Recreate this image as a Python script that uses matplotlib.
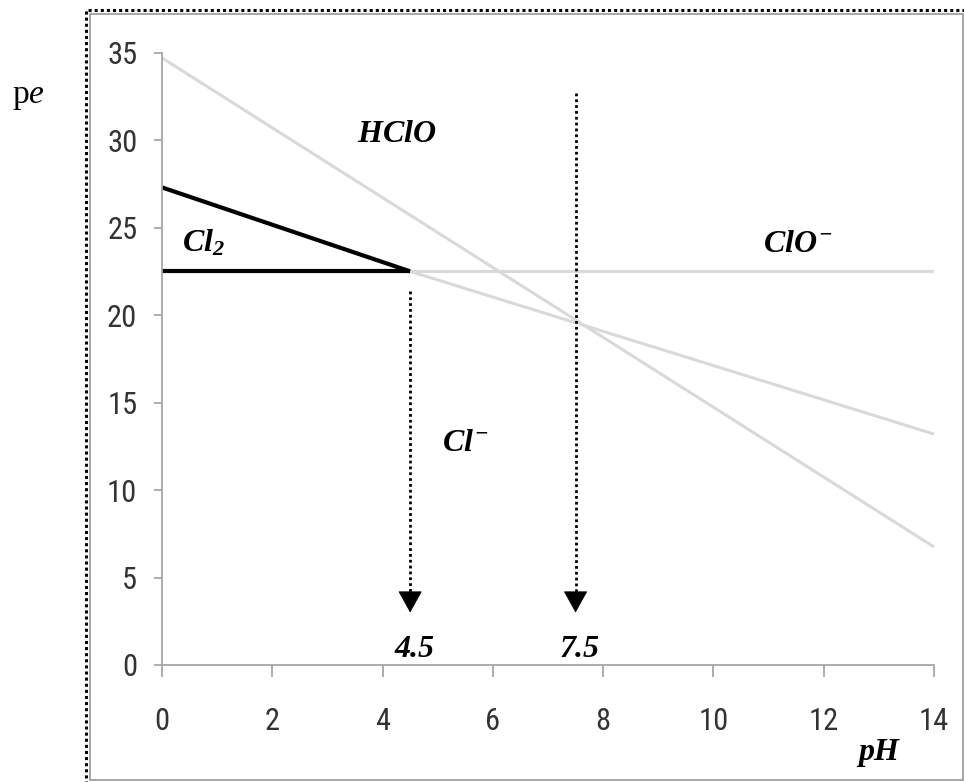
import numpy as np
import matplotlib
matplotlib.use("Agg")
import matplotlib.pyplot as plt
from matplotlib import font_manager
from matplotlib.patches import Rectangle

ph_limites = [0, 14]
pe_hclo_cl = [34.7, 6.75]          # HClO / Cl-
ph_clo_cl = [4.5, 14]
pe_clo_cl = [22.5, 13.2]           # ClO- / Cl-
ph_hclo_clo = [4.5, 14]
pe_hclo_clo = [22.5, 22.5]         # limite horizontal
ph_cl2 = [0, 4.5]
pe_hclo_cl2 = [27.3, 22.5]         # HClO / Cl2
pe_cl2_cl = [22.5, 22.5]           # Cl2 / Cl-

setas_ph = [4.5, 7.5]
setas_inicio = [21.4, 32.7]
setas_fim = [3.0, 3.0]
setas_rotulos = ["4.5", "7.5"]

especies = [r"$HClO$", r"$Cl_2$", r"$ClO^{-}$", r"$Cl^{-}$"]
especies_ph = [4.26, 0.76, 11.53, 5.5]
especies_pe = [30.4, 24.1, 24.1, 12.7]

xticks = [0, 2, 4, 6, 8, 10, 12, 14]
yticks = [0, 5, 10, 15, 20, 25, 30, 35]

# fonte estreita para os ticks, se existir
nomes = set(f.name for f in font_manager.fontManager.ttflist)
fonte_ticks = "DejaVu Sans"
for cand in ["Liberation Sans Narrow", "Roboto Condensed", "Open Sans Condensed",
             "DejaVu Sans Condensed"]:
    if cand in nomes:
        fonte_ticks = cand
        break

plt.rcParams["mathtext.fontset"] = "custom"
plt.rcParams["mathtext.rm"] = "Liberation Serif:bold:italic"
plt.rcParams["mathtext.it"] = "Liberation Serif:bold:italic"
plt.rcParams["mathtext.bf"] = "Liberation Serif:bold:italic"

fig = plt.figure(figsize=(9.64, 7.82), dpi=100)
ax = fig.add_axes([162 / 964, 1 - 665 / 782, 772 / 964, (665 - 52.7) / 782])

cinza = "#d9d9d9"
ax.plot(ph_limites, pe_hclo_cl, color=cinza, lw=2.2, solid_capstyle="butt")
ax.plot(ph_clo_cl, pe_clo_cl, color=cinza, lw=2.2, solid_capstyle="butt")
ax.plot(ph_hclo_clo, pe_hclo_clo, color=cinza, lw=2.2, solid_capstyle="butt")
ax.plot(ph_cl2, pe_hclo_cl2, color="black", lw=3, solid_capstyle="butt")
ax.plot(ph_cl2, pe_cl2_cl, color="black", lw=3, solid_capstyle="butt")

for x, y0, y1, rot in zip(setas_ph, setas_inicio, setas_fim, setas_rotulos):
    ax.plot([x, x], [y0, y1 + 0.6], color="black", lw=2.0, ls=(0, (1, 1.1)))
    ax.annotate("", xy=(x, y1), xytext=(x, y1 + 0.9),
                arrowprops=dict(arrowstyle="-|>,head_length=0.9,head_width=0.5",
                                lw=0.5, color="black",
                                shrinkA=0, shrinkB=0, mutation_scale=16))
    ax.text(x + 0.08, 0.46, rot, ha="center", va="baseline", fontsize=23,
            family="Liberation Serif", style="italic", weight="bold")

for nome, x, y in zip(especies, especies_ph, especies_pe):
    ax.text(x, y, nome, ha="center", va="center", fontsize=23)

ax.set_xlim(0, 14)
ax.set_ylim(0, 35)
ax.set_xticks(xticks)
ax.set_yticks(yticks)
for s in ["top", "right"]:
    ax.spines[s].set_visible(False)
for s in ["left", "bottom"]:
    ax.spines[s].set_color("#a6a6a6")
    ax.spines[s].set_linewidth(1.3)
ax.tick_params(axis="x", direction="out", length=8.6, width=1.3, color="#a6a6a6",
               pad=22, labelsize=22, labelcolor="#333333")
ax.tick_params(axis="y", direction="out", length=5.8, width=1.3, color="#a6a6a6",
               pad=12, labelsize=22, labelcolor="#333333")
for lb in ax.get_xticklabels() + ax.get_yticklabels():
    lb.set_family(fonte_ticks)
    lb.set_stretch("condensed")

ax.text(13.0, -5.43, "pH", ha="center", va="baseline", fontsize=23,
        family="Liberation Serif", style="italic", weight="bold", clip_on=False)

fig.text(12 / 964, 1 - 103 / 782, "p", ha="left", va="baseline", fontsize=24,
         family="Liberation Serif")
fig.text(29 / 964, 1 - 103 / 782, "e", ha="left", va="baseline", fontsize=24,
         family="Liberation Serif", style="italic")

# moldura pontilhada e moldura cinza
fig.add_artist(Rectangle((86 / 964, -4 / 782), 880 / 964, (782 - 10 + 4) / 782,
                         transform=fig.transFigure, fill=False, ec="black",
                         lw=2.2, ls=(0, (1, 1))))
fig.add_artist(Rectangle((89.5 / 964, 1 - 780 / 782), 873 / 964, (780 - 14) / 782,
                         transform=fig.transFigure, fill=False, ec="#a0a0a0", lw=1.3))

fig.savefig("out.png", dpi=100)
